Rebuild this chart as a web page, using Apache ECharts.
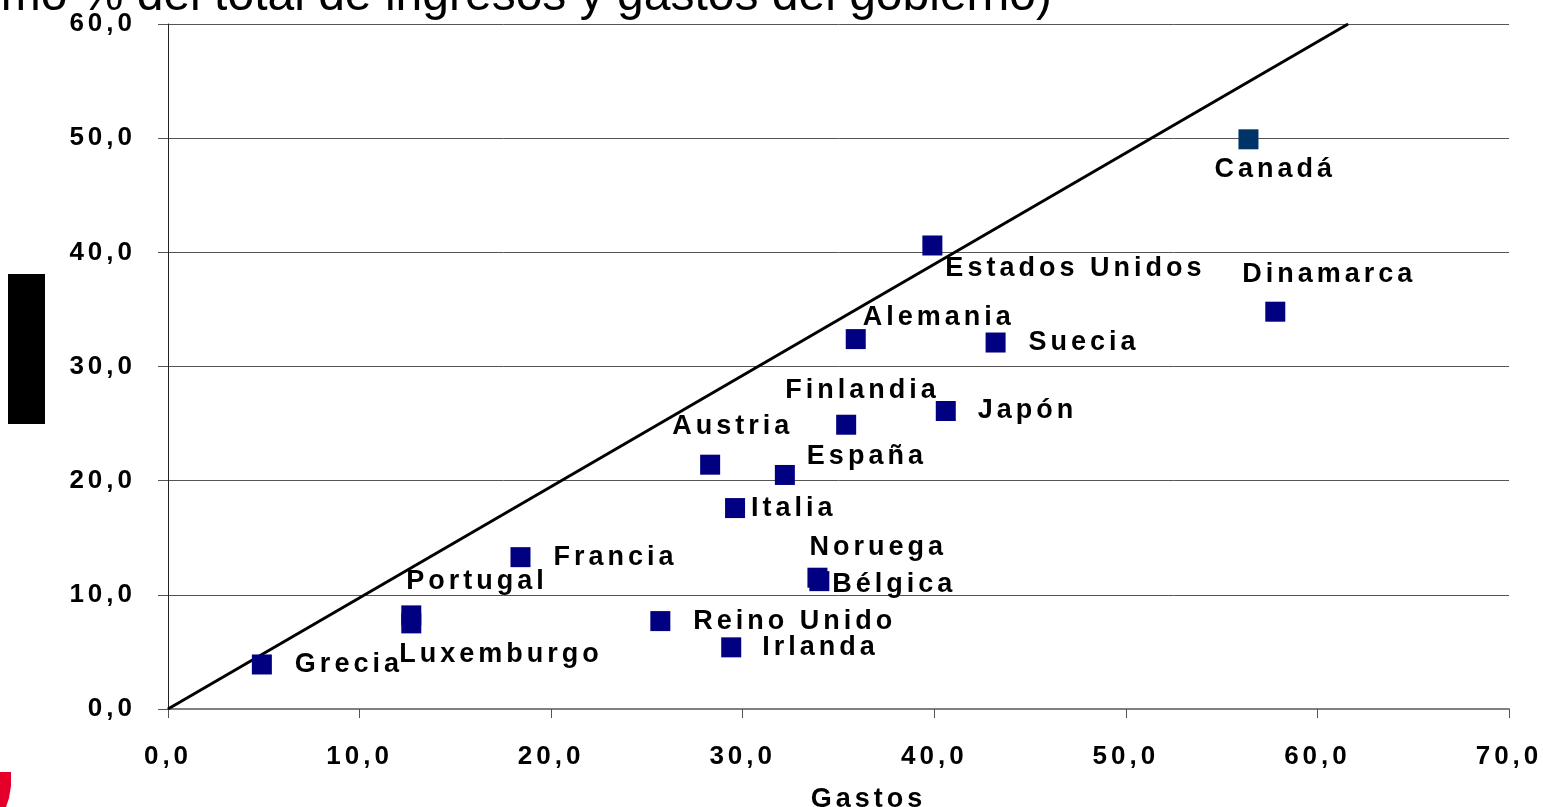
<!DOCTYPE html>
<html>
<head>
<meta charset="utf-8">
<script src="https://cdn.jsdelivr.net/npm/echarts@6/dist/echarts.min.js"></script>
<style>
html,body{margin:0;padding:0;background:#fff;}
#chart{width:1543px;height:807px;}
</style>
</head>
<body>
<div id="chart"></div>
<script>
// ---- Data ----
var countries = ['Grecia','Portugal','Luxemburgo','Francia','Reino Unido','Irlanda','Austria','España','Italia','Finlandia','Japón','Noruega','Bélgica','Estados Unidos','Canadá','Dinamarca','Alemania','Suecia'];
var gastos   = [4.9, 12.7, 12.7, 18.4, 25.7, 29.4, 28.3, 32.2, 29.6, 35.4, 40.6, 33.9, 34.0, 39.9, 56.4, 57.8, 35.9, 43.2];
var ingresos = [3.9, 8.2, 7.5, 13.3, 7.7, 5.4, 21.4, 20.5, 17.6, 24.9, 26.1, 11.5, 11.2, 40.6, 49.9, 34.8, 32.4, 32.1];
var lineX = [0, 61.6];
var lineY = [0, 60];
var xTicks = ['0,0','10,0','20,0','30,0','40,0','50,0','60,0','70,0'];
var yTicks = ['0,0','10,0','20,0','30,0','40,0','50,0','60,0'];
var titleText = '(como % del total de ingresos y gastos del gobierno)';
var xName = 'Gastos';

// label placement (style only): offset of text left edge / middle from marker centre
var labelOffsets = {
  'Grecia':[33,0],'Portugal':[-5,-34],'Luxemburgo':[-12,31],'Francia':[33,0],
  'Reino Unido':[33,0],'Irlanda':[31,0],'Austria':[-38,-38],'España':[22,-18],
  'Italia':[16,0],'Finlandia':[-61,-34],'Japón':[32,0],'Noruega':[-8,-30],
  'Bélgica':[13,3],'Estados Unidos':[13,23],'Canadá':[-34,30],'Dinamarca':[-33,-37],
  'Alemania':[7,-22],'Suecia':[33,0]
};
var markerColors = {'Canadá':'#003366'};

// letter spacing for bold text (mimics the original spaced lettering)
(function(){
  var p = CanvasRenderingContext2D.prototype;
  if (!('letterSpacing' in p)) return;
  var of = p.fillText, om = p.measureText, os = p.strokeText;
  function setLS(ctx){ ctx.letterSpacing = (/bold/.test(ctx.font)) ? '4px' : '0px'; }
  p.fillText = function(){ setLS(this); return of.apply(this, arguments); };
  p.strokeText = function(){ setLS(this); return os.apply(this, arguments); };
  p.measureText = function(){ setLS(this); return om.apply(this, arguments); };
})();

var FONT = 'Liberation Sans, Arial, sans-serif';
var HALF = 10; // half marker size

var scatterData = countries.map(function(c, i){
  var off = labelOffsets[c] || [20,0];
  return {
    name: c,
    value: [gastos[i], ingresos[i]],
    itemStyle: {color: markerColors[c] || '#000080', opacity: 1},
    label: {position: [HALF + off[0], HALF + off[1]]}
  };
});

var chart = echarts.init(document.getElementById('chart'));
chart.setOption({
  animation: false,
  backgroundColor: '#ffffff',
  grid: {left: 168, right: 34, top: 24, bottom: 98, containLabel: false, outerBoundsMode: 'none'},
  graphic: [
    {type:'text', left: -66, top: -27, silent:true,
     style:{text: titleText, font: 'normal 48px ' + FONT, fill:'#000'}},
    {type:'rect', shape:{x:8, y:274, width:37, height:150}, style:{fill:'#000'}},
    {type:'polygon', shape:{points:[[0,772],[11,772],[11,786],[9,798],[6,807],[0,807]]}, style:{fill:'#e4002b'}}
  ],
  xAxis: {
    type: 'value', min: 0, max: 70, interval: 10,
    name: xName, nameLocation: 'middle', nameGap: 75,
    nameTextStyle: {fontFamily: FONT, fontWeight:'bold', fontSize: 27, color:'#000', padding:[0,0,0,60]},
    axisLine: {show:true, onZero:false, lineStyle:{color:'#808080', width:2}},
    axisTick: {show:true, inside:false, length:9, lineStyle:{color:'#555', width:1}},
    splitLine: {show:false},
    axisLabel: {
      margin: 33, fontFamily: FONT, fontWeight:'bold', fontSize: 26, color:'#000',
      formatter: function(v){ return xTicks[Math.round(v/10)]; }
    }
  },
  yAxis: {
    type: 'value', min: 0, max: 60, interval: 10,
    axisLine: {show:true, onZero:false, lineStyle:{color:'#222', width:1}},
    axisTick: {show:true, inside:false, length:10, lineStyle:{color:'#555', width:1}},
    splitLine: {show:true, lineStyle:{color:'#555', width:1}},
    axisLabel: {
      margin: 32, fontFamily: FONT, fontWeight:'bold', fontSize: 26, color:'#000',
      formatter: function(v){ return yTicks[Math.round(v/10)]; }
    }
  },
  series: [
    {
      type: 'line',
      data: lineX.map(function(x, i){ return [x, lineY[i]]; }),
      showSymbol: false, symbol:'none',
      lineStyle: {color:'#000', width:3},
      z: 3, silent: true
    },
    {
      type: 'scatter',
      symbol: 'rect', symbolSize: 20,
      data: scatterData,
      z: 4,
      itemStyle: {opacity: 1},
      label: {
        show: true, align: 'left', verticalAlign: 'middle', opacity: 1,
        formatter: '{b}', fontFamily: FONT, fontWeight: 'bold', fontSize: 27, color: '#000'
      },
      labelLayout: {hideOverlap: false}
    }
  ]
});
</script>
</body>
</html>
